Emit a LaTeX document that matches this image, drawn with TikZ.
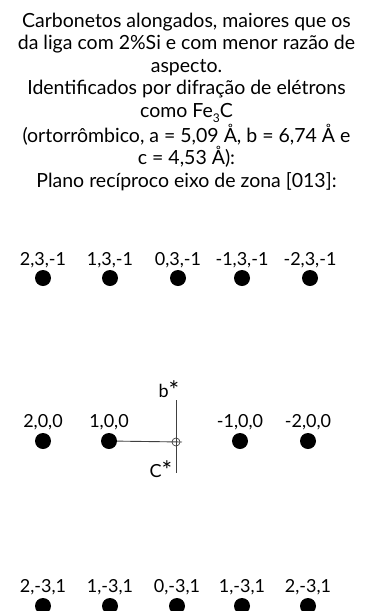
\documentclass[tikz,border=0pt]{standalone}
\usepackage{fontspec}
\setmainfont{Lato}
\usetikzlibrary{positioning}
\newcommand{\bigast}{\raisebox{-0.25ex}{\fontsize{25}{25}\selectfont *}}
\begin{document}
\begin{tikzpicture}[x=1pt,y=-1pt,
  spot/.style={circle,fill=black,inner sep=0pt,minimum size=16pt},
  idx/.style={font=\fontsize{18}{20}\selectfont,inner sep=0pt,anchor=base},
  axis/.style={draw=black!75,line width=0.9pt}]
  \useasboundingbox (0,0) rectangle (373,611);

  % caption
  \node[align=center,anchor=north,inner sep=0pt,
        font=\fontsize{19.5}{22.6}\selectfont] (caption) at (186.5,12.5) {%
    Carbonetos alongados, maiores que os\\
    da liga com 2\%Si e com menor razão de\\
    aspecto.\\
    Identificados por difração de elétrons\\
    como Fe\raisebox{-0.55ex}{\fontsize{12}{12}\selectfont 3}C\\
    (ortorrômbico, a = 5,09 Å, b = 6,74 Å e\\
    c = 4,53 Å):\\
    Plano recíproco eixo de zona [013]:};

  % upper row of spots
  \foreach \x/\lab [count=\k] in {43/{2,3,-1},110/{1,3,-1},178/{0,3,-1},242/{-1,3,-1},310/{-2,3,-1}} {
    \node[spot] (up\k) at (\x,278) {};
    \node[idx] (upl\k) at (\x,265) {\lab};
  }

  % central row of spots
  \foreach \x/\lab [count=\k] in {43/{2,0,0},109/{1,0,0},240/{-1,0,0},308/{-2,0,0}} {
    \node[spot] (mid\k) at (\x,441) {};
    \node[idx] (midl\k) at (\x,427) {\lab};
  }

  % origin and reciprocal axes
  \coordinate (origin) at (176,442);
  \coordinate (hend) at (182,442);
  \coordinate (btop) at (176,400);
  \coordinate (cbot) at (176,473);
  \draw[axis] (mid2) -- (hend);
  \draw[axis] (btop) -- (cbot);
  \draw[axis,line width=0.7pt] (origin) circle (4);
  \node[idx] (bstar) at (169,397) {b\bigast};
  \node[idx] (cstar) at (161,477) {C\bigast};

  % lower row of spots
  \foreach \x/\lab [count=\k] in {43/{2,-3,1},110/{1,-3,1},177/{0,-3,1},242/{1,-3,1},308/{2,-3,1}} {
    \node[spot] (lo\k) at (\x,606) {};
    \node[idx] (lol\k) at (\x,592) {\lab};
  }
\end{tikzpicture}
\end{document}
